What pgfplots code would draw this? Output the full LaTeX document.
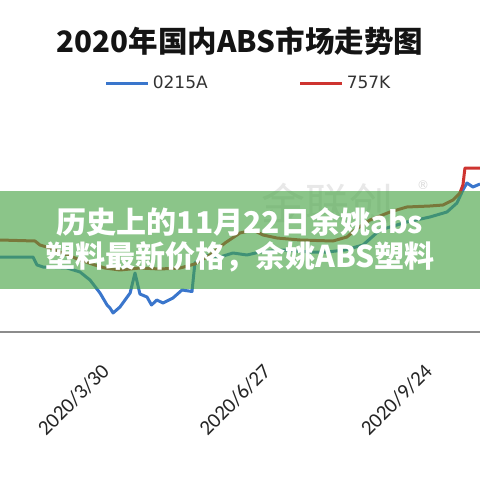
\documentclass[border=0pt]{standalone}
\usepackage{pgfplots}
\usepackage{pgfplotstable}
\pgfplotsset{compat=1.18}
\usepackage{fontspec}
\setmainfont{DejaVu Sans}
\newfontfamily\cjk{Noto Sans CJK SC}
\newfontfamily\tickfont{Carlito}

\definecolor{lineblue}{RGB}{58,118,204}
\definecolor{linered}{RGB}{206,52,48}
\definecolor{bannergreen}{RGB}{69,163,66}
\definecolor{axisgray}{RGB}{140,140,140}

% day of 2020 (0 = Jan 1), price in yuan/t
\pgfplotstableread{
day   val
27.3  12000
45.5  12000
47.7  11680
51.0  11600
64.2  11560
71.4  11400
76.9  11080
82.4  10560
86.3  10080
87.9  9960
89.6  9760
93.4  10000
99.0  10560
101.7 11360
104.4 10520
108.3 10400
110.8 10080
113.7 10280
117.1 10160
122.6 10360
127.6 10680
133.1 10620
134.7 11760
139.1 12080
148.5 12000
155.7 12160
163.4 12080
170.5 12200
183.2 12280
198.1 12200
207.5 12200
217.4 12280
227.3 12480
236.7 13080
251.5 13400
264.2 13600
273.6 13800
279.1 14160
282.4 14680
284.6 14960
287.9 14800
291.8 14920
}\blueA

\pgfplotstableread{
day   val
27.3  12680
46.6  12640
49.3  12480
54.8  12360
63.1  12120
71.4  11880
79.6  11680
85.1  11560
93.4  11480
104.4 11560
115.5 11520
126.5 11560
134.7 11720
143.0 12080
151.3 12560
159.5 12960
166.7 13080
172.2 12880
179.9 12760
192.6 12680
210.8 12640
218.5 12800
222.9 13080
231.2 13480
242.2 13800
251.5 14000
264.2 14040
271.4 14080
276.9 14280
280.7 14560
282.4 14880
283.5 15560
286.3 15560
291.8 15560
}\redK

\begin{document}
\begin{tikzpicture}
\path[use as bounding box, fill=white] (0bp,0bp) rectangle (480bp,480bp);

% faint watermark
\node[text=black!9, font=\cjk\fontsize{44bp}{44bp}\selectfont] at (327bp,276bp) {金联创};
\node[text=black!15, font=\fontsize{12bp}{12bp}\selectfont] at (423bp,295bp) {®};

\begin{axis}[
    at={(0bp,148bp)}, anchor=south west,
    scale only axis, width=480bp, height=200bp,
    xmin=27.3, xmax=291.8, ymin=9000, ymax=17000,
    axis x line*=bottom, hide y axis,
    x axis line style={draw=axisgray, line width=1.5bp, -},
    major tick length=0pt,
    xtick={89,178,267},
    xticklabels={2020/3/30,2020/6/27,2020/9/24},
    xticklabel style={font=\tickfont\fontsize{21bp}{21bp}\selectfont,
        text=black!85, yshift=-30bp, xshift=-12bp, rotate=45, anchor=north east, inner sep=0pt},
    title={2020年国内ABS市场走势图},
    title style={at={(0.5,1.425)}, anchor=center,
        font=\cjk\bfseries\fontsize{29.5bp}{30bp}\selectfont, text=black!92},
    legend columns=2,
    legend style={at={(0.519,1.245)}, anchor=center, draw=none, fill=none,
        font=\fontsize{17bp}{17bp}\selectfont, text=black!80,
        /tikz/every even column/.append style={column sep=88bp},
        nodes={inner sep=3bp}},
    legend image code/.code={\draw[#1] (0bp,0bp) -- (42bp,0bp);},
]
\addplot[lineblue, line width=3bp, line join=round] table[x=day, y=val] {\blueA};
\addlegendentry{0215A}
\addplot[linered, line width=3bp, line join=round] table[x=day, y=val] {\redK};
\addlegendentry{757K}
\end{axis}

% green banner over the chart
\fill[bannergreen, opacity=0.62] (0bp,191bp) rectangle (480bp,289bp);
\node[text=white, align=center, font=\cjk\bfseries\fontsize{30bp}{34bp}\selectfont]
    at (240bp,240bp) {历史上的11月22日余姚abs\\塑料最新价格，余姚ABS塑料};
\end{tikzpicture}
\end{document}
